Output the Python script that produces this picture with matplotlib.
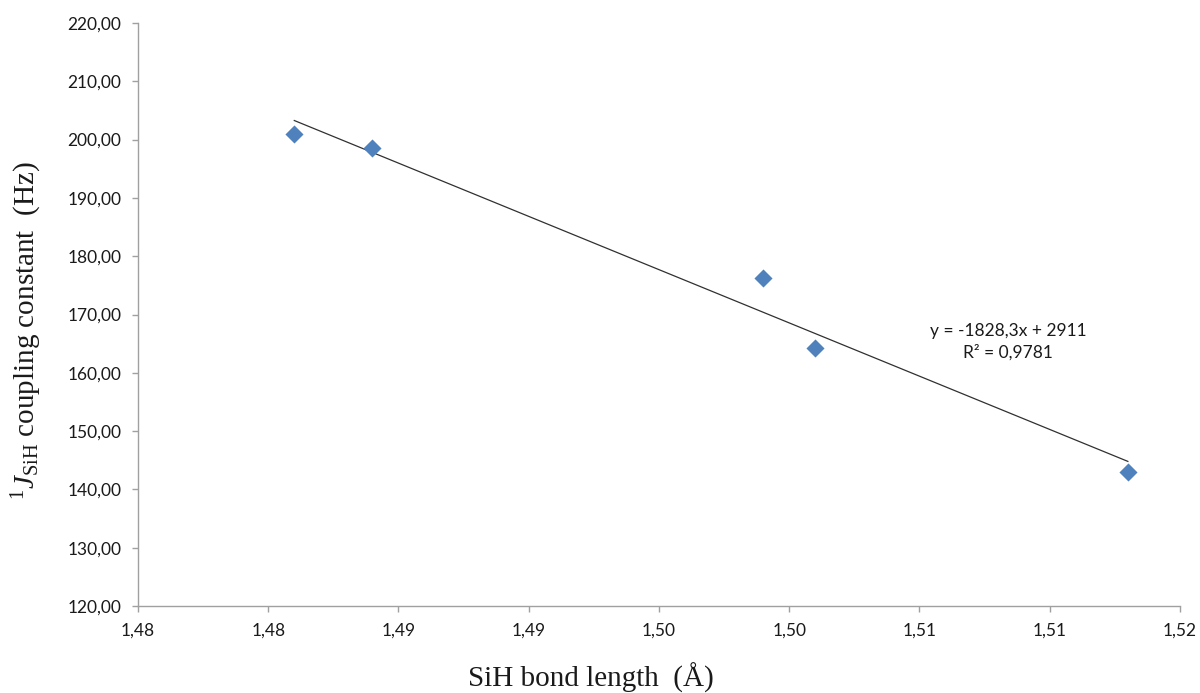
import matplotlib
matplotlib.use("Agg")
import matplotlib.pyplot as plt
from matplotlib.ticker import FuncFormatter, MultipleLocator
import numpy as np

bond_length = [1.481, 1.484, 1.499, 1.501, 1.513]
coupling = [201.0, 198.5, 176.3, 164.2, 143.0]
equation_text = "y = -1828,3x + 2911"
r2_text = "R² = 0,9781"

plt.rcParams['font.family'] = ['Lato', 'DejaVu Sans']
plt.rcParams['mathtext.fontset'] = 'custom'
plt.rcParams['mathtext.rm'] = 'Liberation Serif'
plt.rcParams['mathtext.it'] = 'Liberation Serif:italic'

fig = plt.figure(figsize=(12, 6.93), dpi=100)
ax = fig.add_axes([0.115, 0.1255, 0.8683, 0.8413])

ax.scatter(bond_length, coupling, marker='D', s=85, color='#4F81BD', zorder=3, linewidths=0)

coef = np.polyfit(bond_length, coupling, 1)
xs = np.array([min(bond_length), max(bond_length)])
ax.plot(xs, np.polyval(coef, xs), color='#303030', lw=0.9, zorder=2)

ax.text(1.5084, 167.1, equation_text, ha='center', va='center', fontsize=12.5, color='#1a1a1a')
ax.text(1.5084, 163.5, r2_text, ha='center', va='center', fontsize=12.5, color='#1a1a1a')

ax.set_xlim(1.475, 1.515)
ax.set_ylim(120, 220)
ax.xaxis.set_major_locator(MultipleLocator(0.005))
ax.yaxis.set_major_locator(MultipleLocator(10))
ax.xaxis.set_major_formatter(FuncFormatter(lambda v, p: f"{v+1e-9:.2f}".replace('.', ',')))
ax.yaxis.set_major_formatter(FuncFormatter(lambda v, p: f"{v:.2f}".replace('.', ',')))

for s in ['top', 'right']:
    ax.spines[s].set_visible(False)
for s in ['left', 'bottom']:
    ax.spines[s].set_color('#A0A0A0')
    ax.spines[s].set_linewidth(1.0)
ax.tick_params(direction='out', length=4, width=1, color='#A0A0A0', labelsize=12.5, labelcolor='#1a1a1a', pad=8)

fig.text(591/1200, 1-678/693, "SiH bond length  (Å)", fontsize=21, family='Liberation Serif',
         ha='center', va='center', color='#1a1a1a')
fig.text(27/1200, 1-331/693, r"$^{1}J_{\mathrm{SiH}}$ coupling constant  (Hz)", fontsize=21,
         family='Liberation Serif', ha='center', va='center', rotation=90, color='#1a1a1a')

fig.savefig("out.png", dpi=100, facecolor='white')
